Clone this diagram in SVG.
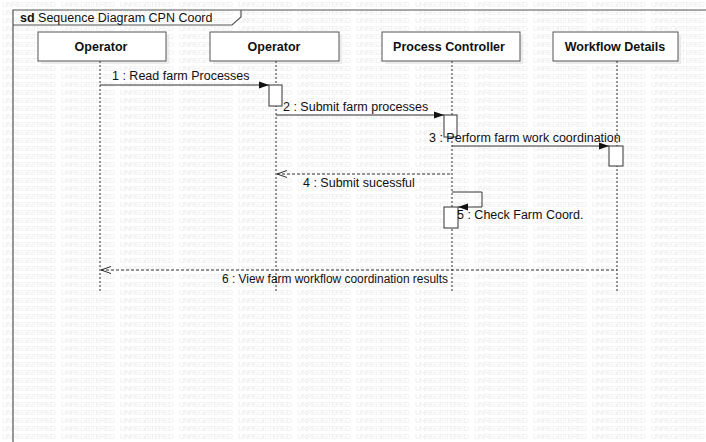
<svg xmlns="http://www.w3.org/2000/svg" width="706" height="442" viewBox="0 0 706 442">
  <style>
    .wm { font-family: "Liberation Sans", Arial, sans-serif; font-size: 8px; fill: #ececec; }
    .frame { fill: none; stroke: #555; stroke-width: 1.2; }
    .head { fill: #fff; stroke: #555; stroke-width: 1; }
    .shadow { fill: #ececec; }
    .headtxt { font-family: "Liberation Sans", Arial, sans-serif; font-size: 12.5px; font-weight: bold; fill: #111; text-anchor: middle; }
    .life { stroke: #333; stroke-width: 1; stroke-dasharray: 2 2; fill: none; }
    .act { fill: #fff; stroke: #333; stroke-width: 1; }
    .msg { stroke: #333; stroke-width: 1; fill: none; }
    .ret { stroke: #333; stroke-width: 1; fill: none; stroke-dasharray: 3 2; }
    .lbl { font-family: "Liberation Sans", Arial, sans-serif; font-size: 12.5px; fill: #111; }
    .title { font-family: "Liberation Sans", Arial, sans-serif; font-size: 12.5px; fill: #111; }
  </style>
  <defs>
    <pattern id="wmPat" patternUnits="userSpaceOnUse" x="2" y="0" width="59" height="8">
      <text class="wm" x="0" y="7" textLength="54">UNREGISTERED</text>
    </pattern>
    <marker id="solidHead" viewBox="0 0 10 10" refX="10" refY="5" markerWidth="10" markerHeight="10" markerUnits="userSpaceOnUse" orient="auto">
      <path d="M0,1.5 L10,5 L0,8.5 Z" fill="#111"/>
    </marker>
    <marker id="openHead" viewBox="0 0 10 10" refX="0" refY="5" markerWidth="10" markerHeight="10" markerUnits="userSpaceOnUse" orient="auto">
      <path d="M10,1.5 L0,5 L10,8.5" fill="none" stroke="#333" stroke-width="1"/>
    </marker>
  </defs>

  <!-- background with evaluation watermark -->
  <rect x="0" y="0" width="706" height="442" fill="#fff"/>
  <rect x="0" y="0" width="706" height="442" fill="url(#wmPat)"/>

  <!-- sd frame -->
  <g id="frame">
    <path class="frame" d="M13,442 L13,10 L706,10"/>
    <path class="frame" d="M13,25 L232,25 L241,17 L241,10"/>
    <text class="title" x="20" y="21.5"><tspan font-weight="bold">sd</tspan>  Sequence Diagram CPN Coord</text>
  </g>

  <!-- lifelines -->
  <g id="operator1">
    <rect class="shadow" x="41" y="35" width="128" height="29"/>
    <rect class="head" x="38" y="32" width="128" height="29"/>
    <text class="headtxt" x="101" y="51">Operator</text>
    <line class="life" x1="100" y1="61" x2="100" y2="293"/>
  </g>
  <g id="operator2">
    <rect class="shadow" x="213" y="35" width="129" height="29"/>
    <rect class="head" x="210" y="32" width="129" height="29"/>
    <text class="headtxt" x="274" y="51">Operator</text>
    <line class="life" x1="276" y1="61" x2="276" y2="293"/>
  </g>
  <g id="processController">
    <rect class="shadow" x="385" y="35" width="138" height="29"/>
    <rect class="head" x="382" y="32" width="138" height="29"/>
    <text class="headtxt" x="449" y="51">Process Controller</text>
    <line class="life" x1="452" y1="61" x2="452" y2="293"/>
  </g>
  <g id="workflowDetails">
    <rect class="shadow" x="556" y="35" width="125" height="29"/>
    <rect class="head" x="553" y="32" width="125" height="29"/>
    <text class="headtxt" x="615" y="51">Workflow Details</text>
    <line class="life" x1="617" y1="61" x2="617" y2="293"/>
  </g>

  <!-- activations -->
  <g id="activations">
    <rect class="act" x="269" y="85" width="13" height="21"/>
    <rect class="act" x="444" y="115" width="13" height="22"/>
    <rect class="act" x="609" y="146" width="14" height="20"/>
    <rect class="act" x="444" y="207" width="14" height="21"/>
  </g>

  <!-- messages -->
  <g id="connectors">
    <line class="msg" x1="100" y1="85" x2="269" y2="85" marker-end="url(#solidHead)"/>
    <line class="msg" x1="276" y1="115" x2="444" y2="115" marker-end="url(#solidHead)"/>
    <line class="msg" x1="452" y1="146" x2="609" y2="146" marker-end="url(#solidHead)"/>
    <line class="ret" x1="277" y1="174" x2="452" y2="174" marker-start="url(#openHead)"/>
    <polyline class="msg" points="452,192 482,192 482,207 458,207" marker-end="url(#solidHead)"/>
    <line class="ret" x1="101" y1="270" x2="617" y2="270" marker-start="url(#openHead)"/>
  </g>

  <!-- message labels -->
  <g id="labels">
    <text class="lbl" x="112" y="80">1 : Read farm Processes</text>
    <text class="lbl" x="283" y="111">2 : Submit farm processes</text>
    <text class="lbl" x="429" y="142">3 : Perform farm work coordination</text>
    <text class="lbl" x="303" y="187">4 : Submit sucessful</text>
    <text class="lbl" x="457" y="219">5 : Check Farm Coord.</text>
    <text class="lbl" x="222" y="283" textLength="226" lengthAdjust="spacingAndGlyphs">6 : View farm workflow coordination  results</text>
  </g>
</svg>
